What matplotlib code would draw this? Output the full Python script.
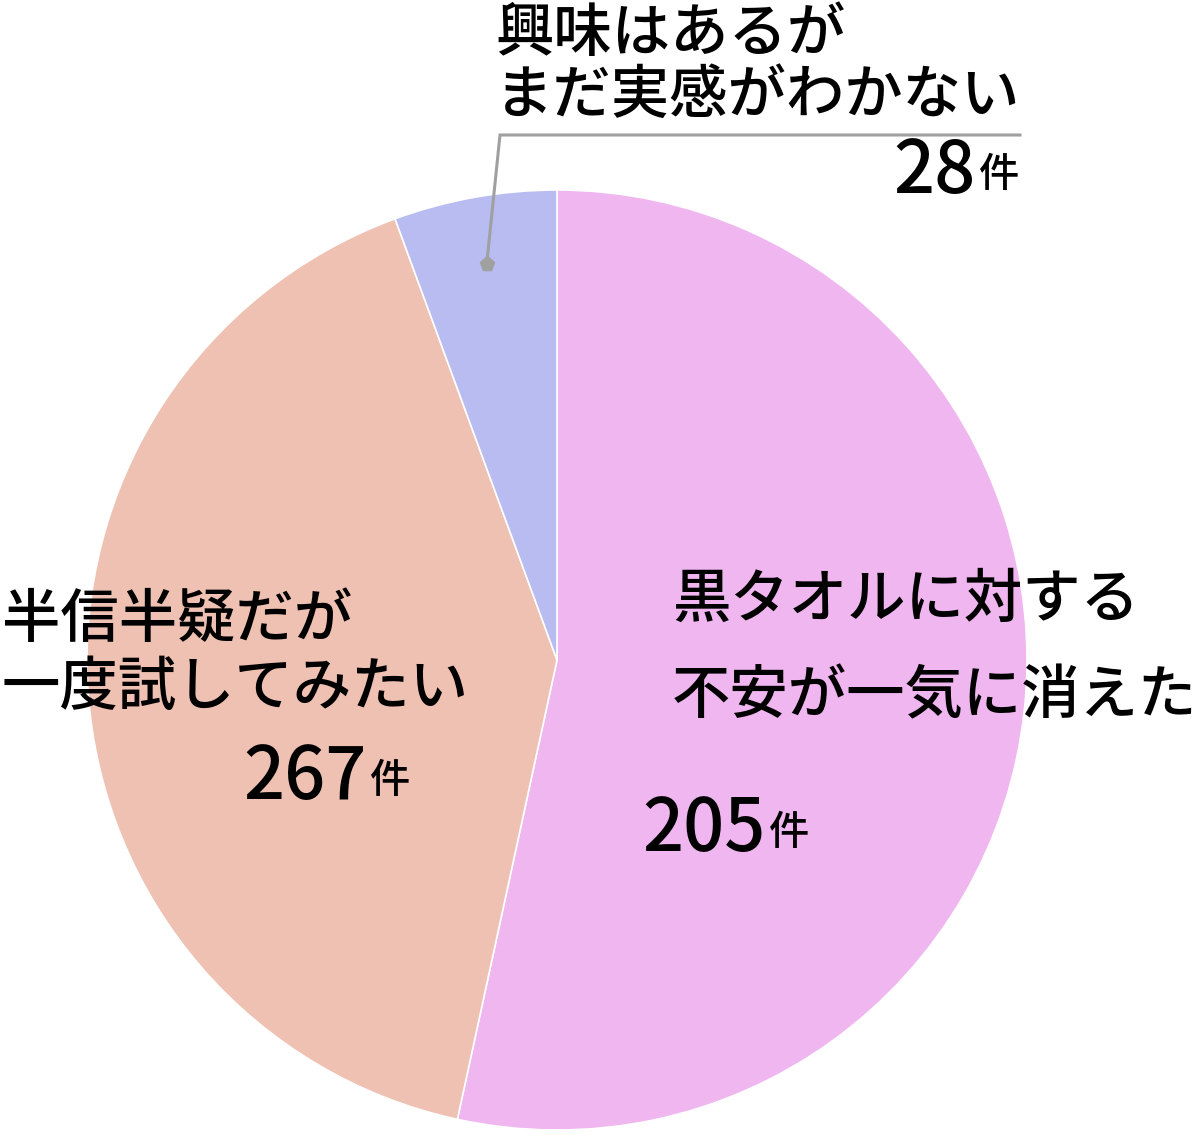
import numpy as np
import matplotlib
matplotlib.use("Agg")
import matplotlib.pyplot as plt

plt.rcParams['font.family'] = ['Noto Sans CJK JP', 'DejaVu Sans']
plt.rcParams['font.weight'] = 'medium'

# slice sizes as drawn in the reference (clockwise from 12 o'clock)
slice_values = [267, 205, 28]
# counts printed next to each slice in the reference
label_counts = [205, 267, 28]
label_lines = [["黒タオルに対する", "不安が一気に消えた"],
               ["半信半疑だが", "一度試してみたい"],
               ["興味はあるが", "まだ実感がわかない"]]
colors = ['#f0b6f0', '#efc1b2', '#b8bcf0']

W, H = 1200, 1140
fig = plt.figure(figsize=(W / 100, H / 100), dpi=100)
ax = fig.add_axes([0, 0, 1, 1])

cx, cy, r = 557, H - 660, 470
wedges, _ = ax.pie(slice_values, colors=colors, startangle=90, counterclock=False,
                   center=(cx, cy), radius=r,
                   wedgeprops=dict(edgecolor='white', linewidth=1.2))
ax.set_xlim(0, W)
ax.set_ylim(0, H)
ax.set_aspect('equal')
ax.axis('off')

big = 42
num = 52
unit = 29


def label(x, y_top, lines, count, nx, ny, gap=70):
    for i, s in enumerate(lines):
        ax.text(x, H - (y_top + i * gap), s, fontsize=big, ha='left', va='center')
    ax.text(nx, H - ny, str(count), fontsize=num, ha='right', va='center')
    ax.text(nx + 3, H - ny - 4, "件", fontsize=unit, ha='left', va='center')


# pink slice
label(672, 600, label_lines[0], label_counts[0], 766, 830, gap=97)
# salmon slice
label(2, 620, label_lines[1], label_counts[1], 367, 778, gap=68)
# lavender slice, with leader line
label(495, 34, label_lines[2], label_counts[2], 976, 172, gap=62)

w = wedges[2]
mid = np.deg2rad((w.theta1 + w.theta2) / 2)
px, py = cx + 0.855 * r * np.cos(mid), cy + 0.855 * r * np.sin(mid)
ax.plot([px, 500, 1020], [py, H - 135, H - 135], color='#a0a0a0', lw=2.2,
        solid_joinstyle='miter')
ax.plot(px, py, marker='p', color='#a0a0a0', ms=11)

fig.savefig("out.png", dpi=100)
